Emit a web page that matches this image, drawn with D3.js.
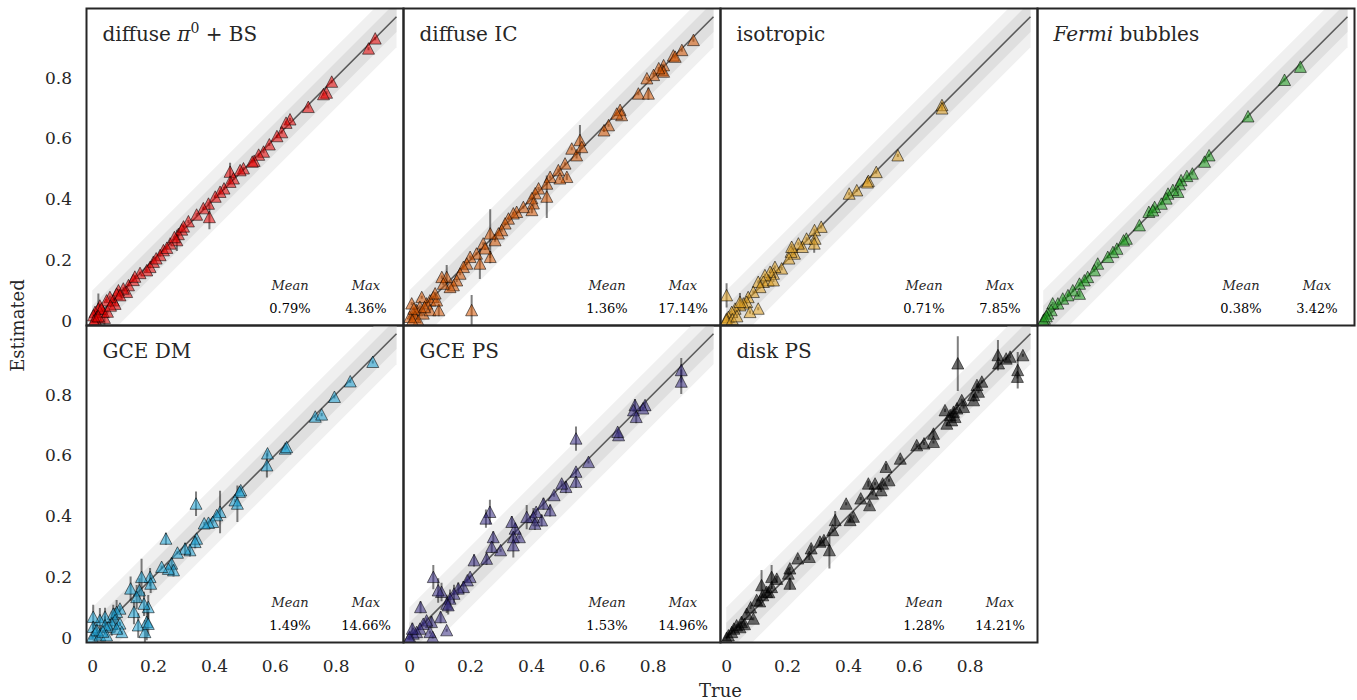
<!DOCTYPE html>
<html>
<head>
<meta charset="utf-8">
<script src="https://cdn.jsdelivr.net/npm/d3@7"></script>
<style>
  body { margin: 0; background: #fff; }
  text { font-family: "DejaVu Serif", serif; fill: #262626; }
</style>
</head>
<body>
<div id="chart"></div>
<script>
// [true, estimated, error]
const piBS = [
  [0.93,0.928,0.005],[0.908,0.895,0.005],[0.787,0.786,0.005],[0.77,0.75,0.005],[0.76,0.745,0.005],
  [0.71,0.703,0.005],[0.65,0.662,0.005],[0.637,0.651,0.005],[0.623,0.62,0.005],[0.607,0.607,0.005],
  [0.582,0.58,0.005],[0.563,0.556,0.005],[0.547,0.546,0.005],[0.532,0.526,0.005],[0.526,0.523,0.005],
  [0.497,0.501,0.005],[0.486,0.495,0.005],[0.453,0.49,0.03],[0.464,0.468,0.005],[0.453,0.457,0.005],
  [0.433,0.435,0.005],[0.42,0.424,0.005],[0.404,0.408,0.005],[0.382,0.385,0.005],[0.385,0.341,0.04],
  [0.365,0.37,0.005],[0.343,0.349,0.005],[0.316,0.327,0.005],[0.294,0.3,0.005],[0.283,0.285,0.01],
  [0.278,0.265,0.035],[0.256,0.254,0.005],[0.234,0.232,0.005],[0.223,0.216,0.005],[0.201,0.194,0.005],
  [0.19,0.177,0.005],[0.179,0.166,0.005],[0.157,0.157,0.005],[0.135,0.134,0.005],[0.119,0.117,0.005],
  [0.113,0.095,0.005],[0.102,0.106,0.005],[0.086,0.1,0.005],[0.08,0.089,0.005],[0.091,0.084,0.005],
  [0.069,0.067,0.005],[0.075,0.056,0.005],[0.058,0.078,0.005],[0.047,0.067,0.005],[0.036,0.029,0.005],
  [0.025,0.05,0.005],[0.02,0.04,0.05],[0.009,0.029,0.005],[0.004,0.018,0.005],[0.015,0.013,0.005],
  [0.04,0.01,0.03],[0.03,0.04,0.005],[0.01,0.005,0.005],[0.005,0.0,0.005],[0.05,0.03,0.005],
  [0.21,0.205,0.005],[0.245,0.24,0.005],[0.27,0.275,0.005],[0.3,0.31,0.005],[0.14,0.145,0.005],
  [0.06,0.05,0.005],[0.02,0.015,0.005]
];
const diffuseIC = [
  [0.934,0.923,0.005],[0.896,0.89,0.005],[0.868,0.872,0.005],[0.874,0.868,0.005],[0.836,0.84,0.005],
  [0.83,0.824,0.005],[0.836,0.819,0.005],[0.82,0.83,0.005],[0.803,0.808,0.005],[0.781,0.797,0.005],
  [0.753,0.747,0.005],[0.786,0.747,0.02],[0.693,0.693,0.005],[0.698,0.676,0.005],[0.682,0.681,0.005],
  [0.655,0.643,0.005],[0.64,0.626,0.005],[0.561,0.594,0.05],[0.534,0.566,0.005],[0.55,0.544,0.01],
  [0.567,0.571,0.005],[0.512,0.517,0.005],[0.518,0.473,0.01],[0.49,0.495,0.005],[0.495,0.468,0.005],
  [0.463,0.473,0.005],[0.452,0.451,0.005],[0.452,0.408,0.07],[0.425,0.435,0.005],[0.414,0.419,0.005],
  [0.403,0.403,0.005],[0.408,0.386,0.01],[0.403,0.364,0.01],[0.375,0.374,0.005],[0.353,0.358,0.005],
  [0.342,0.353,0.005],[0.326,0.336,0.005],[0.315,0.32,0.005],[0.304,0.298,0.005],[0.293,0.287,0.005],
  [0.282,0.265,0.005],[0.266,0.287,0.08],[0.266,0.21,0.02],[0.243,0.254,0.005],[0.249,0.238,0.005],
  [0.232,0.188,0.05],[0.221,0.221,0.005],[0.2,0.21,0.005],[0.189,0.188,0.005],[0.178,0.177,0.005],
  [0.167,0.155,0.005],[0.156,0.133,0.005],[0.145,0.117,0.005],[0.134,0.111,0.005],[0.123,0.144,0.04],
  [0.107,0.144,0.005],[0.112,0.122,0.005],[0.205,0.035,0.05],[0.079,0.078,0.005],[0.068,0.067,0.005],
  [0.057,0.057,0.005],[0.041,0.078,0.005],[0.035,0.046,0.005],[0.024,0.035,0.005],[0.013,0.024,0.005],
  [0.008,0.057,0.005],[0.002,0.013,0.005],[0.019,0.013,0.005],[0.046,0.024,0.005],[0.068,0.035,0.005],
  [0.097,0.035,0.02],[0.09,0.067,0.005],[0.03,0.0,0.005],[0.01,0.002,0.005],[0.05,0.045,0.005],
  [0.015,0.04,0.005],[0.085,0.09,0.005]
];
const isotropic = [
  [0.709,0.709,0.01],[0.709,0.698,0.005],[0.564,0.544,0.005],[0.493,0.489,0.005],[0.467,0.46,0.005],
  [0.464,0.455,0.005],[0.429,0.429,0.005],[0.404,0.418,0.005],[0.312,0.309,0.005],[0.29,0.298,0.005],
  [0.292,0.27,0.005],[0.289,0.254,0.03],[0.264,0.27,0.005],[0.25,0.243,0.005],[0.237,0.254,0.005],
  [0.224,0.221,0.005],[0.213,0.227,0.005],[0.206,0.205,0.005],[0.215,0.243,0.01],[0.182,0.172,0.005],
  [0.16,0.177,0.005],[0.155,0.155,0.005],[0.144,0.161,0.005],[0.138,0.133,0.005],[0.127,0.15,0.005],
  [0.122,0.128,0.005],[0.105,0.128,0.005],[0.111,0.111,0.005],[0.089,0.095,0.005],[0.072,0.078,0.005],
  [0.067,0.062,0.005],[0.056,0.057,0.005],[0.045,0.051,0.005],[0.029,0.04,0.005],[0.018,0.029,0.005],
  [0.007,0.013,0.005],[0.001,0.007,0.005],[0.0,0.002,0.005],[0.105,0.04,0.005],[0.078,0.029,0.005],
  [0.155,0.133,0.005],[0.001,0.084,0.04],[0.045,0.062,0.03],[0.02,0.005,0.005],[0.035,0.015,0.005]
];
const fermiBubbles = [
  [0.845,0.835,0.005],[0.793,0.792,0.005],[0.673,0.672,0.005],[0.545,0.544,0.005],[0.53,0.523,0.005],
  [0.49,0.484,0.005],[0.472,0.476,0.005],[0.453,0.462,0.005],[0.448,0.449,0.005],[0.443,0.424,0.005],
  [0.426,0.43,0.005],[0.41,0.418,0.005],[0.404,0.402,0.005],[0.388,0.385,0.005],[0.366,0.374,0.005],
  [0.347,0.358,0.005],[0.36,0.363,0.005],[0.316,0.314,0.005],[0.273,0.27,0.005],[0.264,0.264,0.005],
  [0.242,0.237,0.005],[0.229,0.226,0.005],[0.212,0.21,0.005],[0.179,0.188,0.005],[0.168,0.166,0.005],
  [0.146,0.144,0.005],[0.135,0.133,0.005],[0.119,0.122,0.005],[0.119,0.089,0.01],[0.097,0.1,0.005],
  [0.081,0.084,0.005],[0.064,0.073,0.005],[0.048,0.057,0.005],[0.031,0.057,0.005],[0.026,0.035,0.005],
  [0.015,0.024,0.005],[0.004,0.007,0.005],[0.0,0.002,0.005],[0.01,0.015,0.005]
];
const gceDM = [
  [0.922,0.907,0.005],[0.848,0.843,0.005],[0.796,0.792,0.005],[0.733,0.727,0.005],[0.754,0.734,0.005],
  [0.634,0.622,0.005],[0.639,0.627,0.005],[0.576,0.606,0.01],[0.574,0.567,0.04],[0.488,0.485,0.005],
  [0.484,0.48,0.005],[0.469,0.452,0.005],[0.477,0.441,0.06],[0.42,0.414,0.07],[0.409,0.403,0.005],
  [0.396,0.381,0.005],[0.382,0.378,0.005],[0.368,0.376,0.005],[0.341,0.441,0.04],[0.343,0.326,0.005],
  [0.338,0.315,0.02],[0.321,0.288,0.02],[0.305,0.293,0.02],[0.28,0.28,0.005],[0.261,0.244,0.02],
  [0.267,0.222,0.02],[0.25,0.227,0.005],[0.228,0.233,0.005],[0.242,0.326,0.02],[0.19,0.2,0.03],
  [0.192,0.178,0.03],[0.162,0.2,0.06],[0.155,0.156,0.04],[0.126,0.162,0.04],[0.146,0.134,0.04],
  [0.184,0.101,0.04],[0.179,0.052,0.06],[0.17,0.112,0.04],[0.137,0.085,0.04],[0.151,0.041,0.04],
  [0.173,0.019,0.04],[0.184,0.046,0.04],[0.091,0.096,0.01],[0.08,0.085,0.04],[0.069,0.079,0.03],
  [0.075,0.058,0.04],[0.091,0.047,0.005],[0.097,0.019,0.005],[0.064,0.047,0.04],[0.053,0.036,0.005],
  [0.042,0.069,0.03],[0.025,0.058,0.04],[0.003,0.069,0.04],[0.003,0.036,0.02],[0.009,0.014,0.005],
  [0.0,0.003,0.005],[0.025,0.008,0.005],[0.042,0.041,0.03],[0.047,0.008,0.005],[0.08,0.03,0.005],
  [0.015,0.025,0.03],[0.035,0.02,0.005]
];
const gcePS = [
  [0.894,0.88,0.04],[0.894,0.842,0.04],[0.775,0.765,0.01],[0.768,0.754,0.005],[0.742,0.765,0.02],
  [0.737,0.748,0.005],[0.746,0.726,0.02],[0.688,0.666,0.01],[0.685,0.677,0.005],[0.548,0.655,0.04],
  [0.589,0.578,0.005],[0.548,0.546,0.01],[0.548,0.513,0.02],[0.515,0.496,0.02],[0.501,0.507,0.01],
  [0.476,0.469,0.005],[0.463,0.419,0.02],[0.441,0.441,0.02],[0.435,0.386,0.02],[0.417,0.414,0.01],
  [0.408,0.397,0.03],[0.413,0.375,0.02],[0.386,0.397,0.04],[0.362,0.331,0.005],[0.348,0.359,0.02],
  [0.342,0.331,0.02],[0.342,0.304,0.04],[0.337,0.381,0.02],[0.3,0.288,0.005],[0.276,0.331,0.02],
  [0.271,0.299,0.02],[0.254,0.26,0.02],[0.265,0.414,0.04],[0.252,0.392,0.03],[0.213,0.255,0.02],
  [0.2,0.2,0.005],[0.191,0.189,0.005],[0.178,0.167,0.02],[0.161,0.162,0.02],[0.147,0.145,0.03],
  [0.134,0.129,0.03],[0.123,0.112,0.03],[0.128,0.107,0.03],[0.106,0.151,0.03],[0.095,0.156,0.04],
  [0.079,0.2,0.04],[0.103,0.068,0.02],[0.073,0.052,0.02],[0.037,0.101,0.02],[0.123,0.025,0.005],
  [0.077,0.003,0.005],[0.057,0.057,0.01],[0.046,0.046,0.005],[0.035,0.03,0.005],[0.024,0.019,0.005],
  [0.013,0.014,0.005],[0.002,0.003,0.005],[0.0,0.0,0.005],[0.068,0.019,0.005],[0.01,0.03,0.02]
];
const diskPS = [
  [0.761,0.902,0.09],[0.893,0.929,0.05],[0.895,0.902,0.005],[0.92,0.918,0.005],[0.933,0.924,0.005],
  [0.975,0.929,0.005],[0.958,0.88,0.06],[0.957,0.858,0.005],[0.84,0.842,0.005],[0.824,0.831,0.005],
  [0.829,0.809,0.005],[0.813,0.798,0.005],[0.813,0.781,0.005],[0.774,0.781,0.005],[0.78,0.759,0.005],
  [0.758,0.754,0.005],[0.747,0.743,0.01],[0.752,0.726,0.005],[0.736,0.732,0.005],[0.719,0.748,0.005],
  [0.725,0.704,0.005],[0.741,0.715,0.005],[0.681,0.671,0.01],[0.681,0.644,0.005],[0.65,0.639,0.005],
  [0.626,0.633,0.005],[0.572,0.589,0.005],[0.525,0.562,0.01],[0.535,0.518,0.005],[0.514,0.507,0.005],
  [0.509,0.485,0.005],[0.489,0.507,0.005],[0.481,0.474,0.005],[0.467,0.507,0.01],[0.471,0.436,0.005],
  [0.442,0.458,0.005],[0.418,0.398,0.005],[0.394,0.441,0.005],[0.407,0.387,0.005],[0.358,0.387,0.03],
  [0.35,0.354,0.005],[0.339,0.288,0.06],[0.321,0.321,0.01],[0.308,0.316,0.005],[0.279,0.294,0.01],
  [0.273,0.266,0.01],[0.235,0.261,0.005],[0.209,0.228,0.005],[0.204,0.211,0.005],[0.209,0.178,0.02],
  [0.166,0.194,0.01],[0.149,0.2,0.04],[0.149,0.167,0.005],[0.133,0.151,0.005],[0.116,0.173,0.05],
  [0.1,0.124,0.005],[0.089,0.063,0.005],[0.067,0.079,0.005],[0.05,0.052,0.005],[0.034,0.041,0.005],
  [0.018,0.019,0.005],[0.007,0.008,0.005],[0.001,0.0,0.005],[0.12,0.14,0.005],[0.14,0.15,0.005],
  [0.025,0.03,0.005],[0.06,0.045,0.005],[0.08,0.1,0.005],[0.11,0.12,0.005],[0.045,0.035,0.005]
];

const componentData = [piBS, diffuseIC, isotropic, fermiBubbles, gceDM, gcePS, diskPS];
const componentColors = ["#e80000", "#d35400", "#e0a020", "#1f9f1f", "#1ba3d6", "#352a80", "#000000"];
// title pieces: [text, style]
const componentTitles = [
  [["diffuse ", ""], ["π", "italic"], ["0", "sup"], [" + BS", ""]],
  [["diffuse IC", ""]],
  [["isotropic", ""]],
  [["Fermi", "italic"], [" bubbles", ""]],
  [["GCE DM", ""]],
  [["GCE PS", ""]],
  [["disk PS", ""]]
];
const meanErrors = ["0.79%", "1.36%", "0.71%", "0.38%", "1.49%", "1.53%", "1.28%"];
const maxErrors = ["4.36%", "17.14%", "7.85%", "3.42%", "14.66%", "14.96%", "14.21%"];
const tickValues = [0, 0.2, 0.4, 0.6, 0.8];

const width = 1357, height = 700;
const panel = 317;
const margin = { left: 86.5, top: 8.5 };
const nCols = 4;

const svg = d3.select("#chart")
  .append("svg")
  .attr("width", width)
  .attr("height", height);

// shared scales (each panel is drawn in its own group)
const x = d3.scaleLinear().domain([-0.019, 1.023]).range([0, panel]);
const y = d3.scaleLinear().domain([-0.015, 1.027]).range([panel, 0]);

const tickFormat = d => d === 0 ? "0" : d3.format(".1f")(d);

componentData.forEach((data, i) => {
  const col = i % nCols, row = Math.floor(i / nCols);
  const g = svg.append("g")
    .attr("transform", `translate(${margin.left + col * panel},${margin.top + row * panel})`);

  g.append("clipPath").attr("id", "clip" + i)
    .append("rect").attr("width", panel).attr("height", panel);

  const inner = g.append("g").attr("clip-path", `url(#clip${i})`);

  // tolerance bands around the diagonal
  [[0.1, "#f0f0f0"], [0.05, "#dfdfdf"]].forEach(([w, c]) => {
    const pts = [[0, -w], [0, w], [1, 1 + w], [1, 1 - w]];
    inner.append("path")
      .attr("d", d3.line().x(p => x(p[0])).y(p => y(p[1]))(pts) + "Z")
      .attr("fill", c);
  });

  inner.append("line")
    .attr("x1", x(0)).attr("y1", y(0))
    .attr("x2", x(1)).attr("y2", y(1))
    .attr("stroke", "#5a5a5a")
    .attr("stroke-width", 1.6);

  // error bars
  inner.selectAll(".err")
    .data(data)
    .enter()
    .append("line")
    .attr("x1", d => x(d[0])).attr("x2", d => x(d[0]))
    .attr("y1", d => y(d[1] - d[2])).attr("y2", d => y(d[1] + d[2]))
    .attr("stroke", "#000")
    .attr("stroke-opacity", 0.5)
    .attr("stroke-width", 2);

  // markers
  inner.selectAll(".pt")
    .data(data)
    .enter()
    .append("path")
    .attr("transform", d => `translate(${x(d[0])},${y(d[1])})`)
    .attr("d", "M0,-6L6,5.5L-6,5.5Z")
    .attr("fill", componentColors[i])
    .attr("fill-opacity", 0.55)
    .attr("stroke", "#000")
    .attr("stroke-opacity", 0.6)
    .attr("stroke-width", 0.9);

  // title
  const title = g.append("text")
    .attr("x", 16)
    .attr("y", 32)
    .style("font-size", "20px");
  let raised = false;
  componentTitles[i].forEach(([t, s]) => {
    const span = title.append("tspan").text(t);
    if (s === "italic") span.style("font-style", "italic");
    if (s === "sup") {
      span.attr("dy", -8).style("font-size", "14px");
      raised = true;
    } else if (raised) {
      span.attr("dy", 8);
      raised = false;
    }
  });

  // mean / max annotation
  [[203.5, "Mean", meanErrors[i]], [279.5, "Max", maxErrors[i]]].forEach(([cx, lab, val]) => {
    g.append("text")
      .attr("x", cx).attr("y", 281.5)
      .attr("text-anchor", "middle")
      .style("font-size", "13px")
      .style("font-style", "italic")
      .text(lab);
    g.append("text")
      .attr("x", cx).attr("y", 304)
      .attr("text-anchor", "middle")
      .style("font-size", "13px")
      .style("fill", "#000")
      .text(val);
  });

  // axes: y labels on first column, x labels on bottom row panels
  if (col === 0) {
    const ax = g.append("g")
      .call(d3.axisLeft(y).tickValues(tickValues).tickFormat(tickFormat).tickSize(0).tickPadding(14.5));
    ax.select(".domain").remove();
    ax.selectAll("text").style("font-size", "17px").style("font-family", "DejaVu Serif");
  }
  if (row === 1) {
    const ax = g.append("g")
      .attr("transform", `translate(0,${panel})`)
      .call(d3.axisBottom(x).tickValues(tickValues).tickFormat(tickFormat).tickSize(0).tickPadding(17));
    ax.select(".domain").remove();
    ax.selectAll("text").style("font-size", "17px").style("font-family", "DejaVu Serif");
  }

  // frame
  g.append("rect")
    .attr("width", panel).attr("height", panel)
    .attr("fill", "none")
    .attr("stroke", "#262626")
    .attr("stroke-width", 2);
});

// axis titles
svg.append("text")
  .attr("x", margin.left + 2 * panel)
  .attr("y", 697)
  .attr("text-anchor", "middle")
  .style("font-size", "18px")
  .text("True");

svg.append("text")
  .attr("transform", "rotate(-90)")
  .attr("x", -(margin.top + panel))
  .attr("y", 24)
  .attr("text-anchor", "middle")
  .style("font-size", "18px")
  .text("Estimated");
</script>
</body>
</html>
